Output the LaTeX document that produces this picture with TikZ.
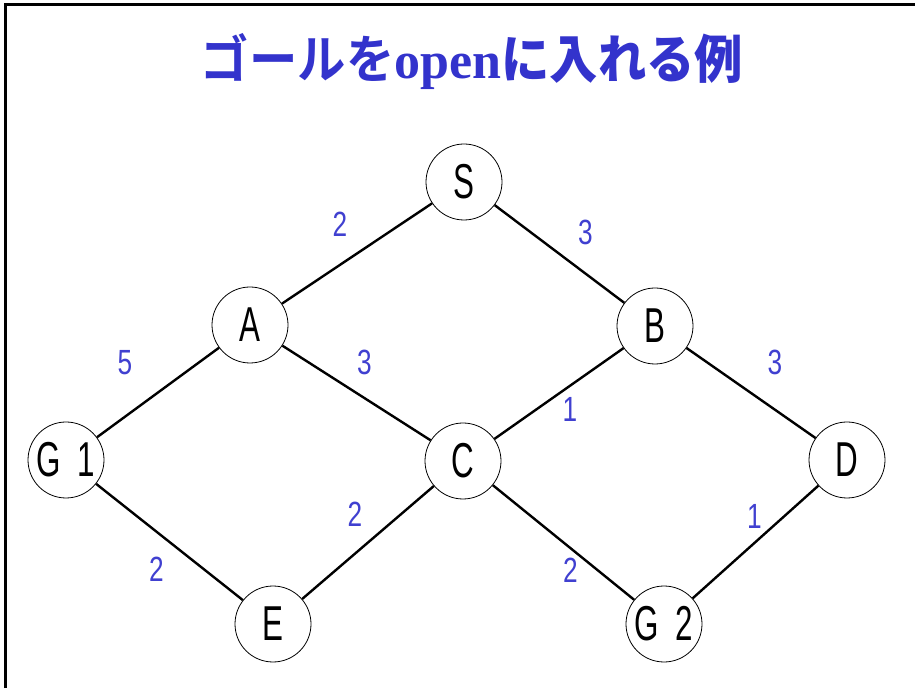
\documentclass[tikz,border=0pt]{standalone}
\usepackage{fontspec}
\usepackage{xcolor}
\usepackage{tikz}
\setmainfont{Liberation Serif}
\newfontfamily\jpfont{Noto Sans CJK JP Bold}[FakeStretch=0.93]
\newfontfamily\vtxfont{Liberation Sans}[FakeStretch=0.64]
\newfontfamily\wtfont{Liberation Sans}[FakeStretch=0.75]
\definecolor{titleblue}{RGB}{51,51,204}
\definecolor{wtblue}{RGB}{64,64,208}

\begin{document}
\begin{tikzpicture}[x=1pt,y=1pt,
  vtx/.style={draw,circle,line width=0.8pt,minimum size=76pt,inner sep=0pt,
    font=\vtxfont\fontsize{49}{54}\selectfont},
  edg/.style={line width=2.4pt},
  wt/.style={text=wtblue,inner sep=0pt,font=\wtfont\fontsize{35}{40}\selectfont}]
\useasboundingbox (0,0) rectangle (915,688);
\draw[line width=3pt] (5.5,0) -- (5.5,683.5) -- (915,683.5);
\node[text=titleblue,font=\fontsize{52}{56}\selectfont](title) at (472,626)
  {\jpfont ゴールを\bfseries\rmfamily open\jpfont に入れる例};
\node[vtx](s) at (464,506){S};
\node[vtx](a) at (250,363){A};
\node[vtx](b) at (655,362){B};
\node[vtx](g1) at (66,228){G\,\,1};
\node[vtx](c) at (463,227){C};
\node[vtx](d) at (847,228){D};
\node[vtx](e) at (273,64){E};
\node[vtx](g2) at (664,64){G\,\,2};
\draw[edg] (s) -- (a) node[wt,midway,shift={(-17,29)}]{2};
\draw[edg] (s) -- (b) node[wt,midway,shift={(26,22)}]{3};
\draw[edg] (a) -- (g1) node[wt,midway,shift={(-33,30)}]{5};
\draw[edg] (a) -- (c) node[wt,midway,shift={(8,31)}]{3};
\draw[edg] (b) -- (c) node[wt,midway,shift={(11,-16)}]{1};
\draw[edg] (b) -- (d) node[wt,midway,shift={(24,31)}]{3};
\draw[edg] (g1) -- (e) node[wt,midway,shift={(-13,-27)}]{2};
\draw[edg] (c) -- (e) node[wt,midway,shift={(-13,28)}]{2};
\draw[edg] (c) -- (g2) node[wt,midway,shift={(7,-28)}]{2};
\draw[edg] (d) -- (g2) node[wt,midway,shift={(-1,26)}]{1};
\end{tikzpicture}
\end{document}
